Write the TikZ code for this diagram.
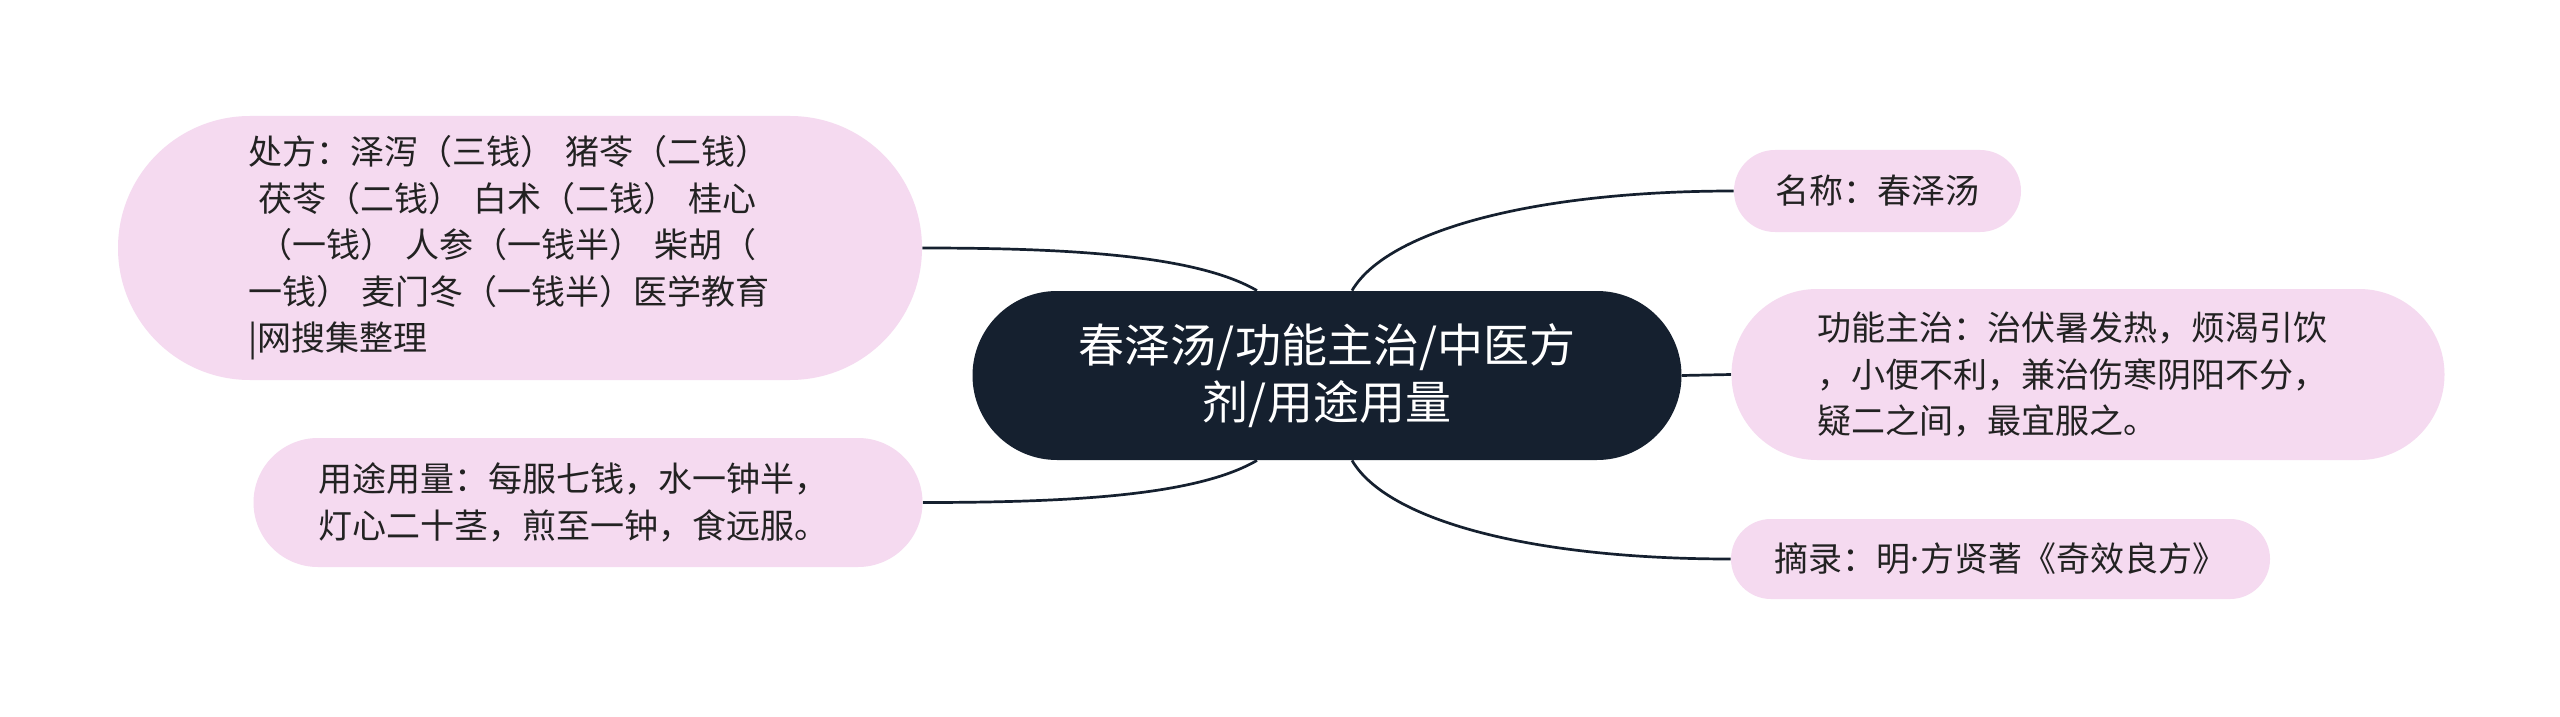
\documentclass[tikz,border=0pt]{standalone}
\usepackage{fontspec}
\setmainfont{Noto Sans CJK SC}
\newfontfamily\latinfont{Noto Sans}
\usetikzlibrary{shapes.misc}
\definecolor{navy}{HTML}{15202F}
\definecolor{leaf}{HTML}{F5DAF0}
\definecolor{ink}{HTML}{222222}
\pgfdeclarelayer{bg}
\pgfdeclarelayer{background}
\pgfsetlayers{bg,background,main}
\begin{document}
\begin{tikzpicture}[x=0.5pt,y=-0.5pt,
  leafbox/.style={rounded rectangle, fill=leaf, text=ink, inner sep=0pt,
    font=\fontsize{17}{23.25}\selectfont},
  rootbox/.style={rounded rectangle, fill=navy, text=white, inner sep=0pt,
    align=center, font=\fontsize{23}{28.5}\selectfont},
  link/.style={draw=navy, line width=1.35pt}]
\useasboundingbox (0,0) rectangle (2560,717);
\begin{pgfonlayer}{bg}
\fill[white] (0,0) rectangle (2560,717);
\end{pgfonlayer}

\node[rootbox, minimum width=354.5pt, minimum height=84.5pt] (root) at (1327,375.5)
  {春泽汤/功能主治/中医方\\剂/用途用量};

\node[leafbox, minimum width=402pt, minimum height=132pt, text width=272pt, align=left] (chufang) at (520,248)
  {处方：泽泻（三钱） 猪苓（二钱）\\
   \hspace*{0.3em}茯苓（二钱） 白术（二钱） 桂心\\
   \hspace*{0.3em}（一钱） 人参（一钱半） 柴胡（\\
   一钱） 麦门冬（一钱半）医学教育\\
   |网搜集整理};

\node[leafbox, minimum width=334.5pt, minimum height=64.5pt, text width=270pt, align=left] (yongtu) at (588,502.5)
  {用途用量：每服七钱，水一钟半，\\灯心二十茎，煎至一钟，食远服。};

\node[leafbox, minimum width=143.5pt, minimum height=41pt] (mingcheng) at (1877.5,191)
  {名称：春泽汤};

\node[leafbox, minimum width=356.5pt, minimum height=85.5pt, text width=271pt, align=left] (gongneng) at (2088,374.5)
  {功能主治：治伏暑发热，烦渴引饮\\，小便不利，兼治伤寒阴阳不分，\\疑二之间，最宜服之。};

\node[leafbox, minimum width=269.5pt, minimum height=40pt] (zhailu) at (2000.5,559)
  {摘录：明{\latinfont ·}方贤著《奇效良方》};

\begin{pgfonlayer}{background}
\draw[link] ([xshift=-35pt]root.north) .. controls +(-60,-35) and +(150,0) .. (chufang.east);
\draw[link] ([xshift=-35pt]root.south) .. controls +(-60,35) and +(150,0) .. (yongtu.east);
\draw[link] ([xshift=12.5pt]root.north) .. controls +(35,-60) and +(-200,0) .. (mingcheng.west);
\draw[link] ([xshift=12.5pt]root.south) .. controls +(35,60) and +(-200,0) .. (zhailu.west);
\draw[link] (root.east) -- (gongneng.west);
\end{pgfonlayer}
\end{tikzpicture}
\end{document}
